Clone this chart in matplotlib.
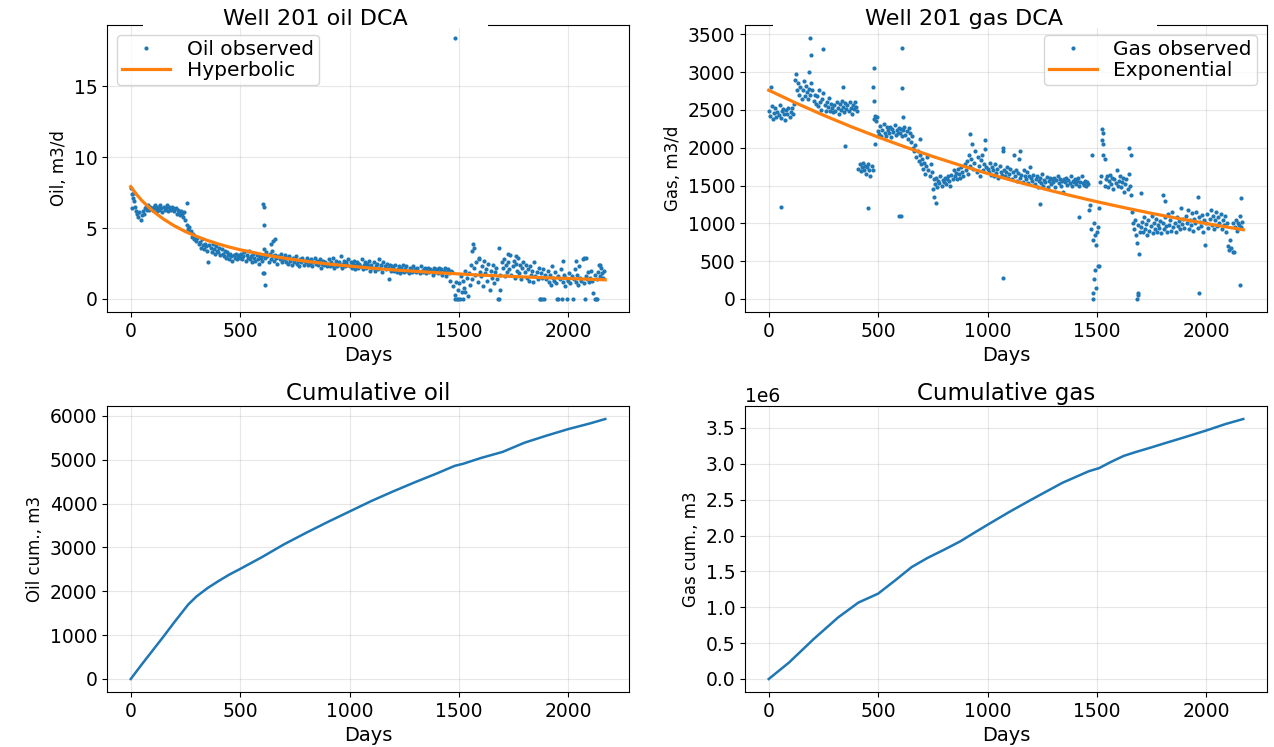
import numpy as np
import matplotlib
matplotlib.use("Agg")
import matplotlib.pyplot as plt
from matplotlib.patches import Rectangle
from matplotlib.ticker import MultipleLocator

step = 5
oil_rate = [
    7.8, 7.4, 7.1, 6.9, 6.5, 6.2, 6.0, 5.8, 6.1, 5.6, 5.9, 6.2, 6.0, 6.4, 6.5, 6.3, 6.6, 6.3, 6.5, 6.4,
    6.3, 6.5, 6.6, 6.4, 6.2, 6.5, 6.3, 6.6, 6.4, 6.1, 6.5, 6.3, 6.4, 6.6, 6.2, 6.5, 6.4, 6.3, 6.5, 6.4,
    6.2, 6.4, 6.0, 6.3, 6.1, 5.9, 6.2, 6.0, 5.8, 6.1, 5.6, 5.2, 4.9, 5.1, 4.7, 4.8, 4.4, 4.6, 4.2, 4.3,
    4.1, 4.3, 3.9, 4.0, 3.6, 4.2, 3.8, 3.5, 3.9, 3.7, 3.4, 2.6, 3.8, 3.6, 3.3, 3.9, 3.5, 3.2, 3.7, 3.4,
    3.3, 3.6, 3.1, 3.5, 3.2, 3.0, 3.4, 2.9, 3.3, 3.1, 2.8, 3.2, 3.0, 2.7, 3.1, 2.9, 3.2, 2.8, 3.0, 3.1,
    2.9, 3.2, 2.8, 3.0, 3.3, 2.7, 3.1, 2.9, 3.4, 2.8, 3.0, 2.6, 3.2, 2.9, 2.7, 3.1, 2.8, 2.5, 3.0, 2.9,
    2.7, 3.1, 3.5, 2.9, 3.3, 3.0, 2.6, 3.2, 2.8, 3.4, 3.0, 2.7, 3.1, 2.9, 2.5, 3.0, 2.8, 3.2, 2.6, 2.9,
    2.8, 3.1, 2.6, 2.9, 2.5, 3.0, 2.7, 2.4, 2.9, 2.6, 2.8, 3.0, 2.5, 2.7, 2.3, 2.8, 2.6, 2.9, 2.4, 2.7,
    2.6, 2.9, 2.4, 2.7, 2.5, 2.8, 2.3, 2.6, 2.9, 2.5, 2.7, 2.4, 2.6, 2.8, 2.2, 2.5, 2.7, 2.4, 2.6, 2.3,
    2.5, 2.8, 2.3, 2.6, 2.4, 2.9, 2.2, 2.5, 2.7, 2.3, 2.6, 2.4, 3.0, 2.2, 2.5, 2.7, 2.3, 2.6, 2.4, 2.8,
    2.3, 2.6, 2.2, 2.5, 2.7, 2.1, 2.4, 2.6, 2.2, 2.5, 2.3, 2.8, 2.1, 2.4, 2.6, 2.2, 2.5, 2.3, 2.7, 2.0,
    2.4, 2.2, 2.6, 2.0, 2.3, 2.5, 2.1, 2.8, 2.2, 2.4, 1.9, 2.6, 2.3, 2.1, 2.5, 2.2, 1.4, 2.4, 2.0, 2.3,
    2.2, 2.0, 2.4, 1.9, 2.1, 2.3, 1.8, 2.2, 2.0, 2.4, 1.9, 2.1, 2.3, 2.0, 1.8, 2.2, 2.1, 1.9, 2.3, 2.0,
    2.1, 1.9, 2.2, 2.0, 1.8, 2.3, 2.0, 1.9, 2.1, 2.2, 1.8, 2.0, 2.2, 1.9, 2.1, 2.0, 1.7, 2.2, 1.9, 2.1,
    2.0, 1.8, 2.2, 1.9, 2.1, 1.7, 2.0, 2.2, 1.6, 1.9, 2.1, 1.8, 1.3, 2.0, 1.9, 0.9, 0.3, 1.2, 0.0, 0.6,
    1.1, 0.0, 1.6, 0.5, 1.3, 0.8, 2.0, 1.5, 0.2, 1.8, 1.0, 2.4, 1.4, 3.9, 2.2, 1.7, 2.6, 1.2, 2.9, 1.9,
    1.6, 2.3, 0.9, 2.7, 1.8, 2.1, 1.3, 2.5, 0.6, 2.0, 1.5, 2.4, 1.1, 1.9, 2.2, 1.4, 0.0, 3.6, 1.7, 2.6,
    2.2, 2.8, 1.6, 2.4, 1.9, 2.6, 2.1, 3.1, 1.7, 2.3, 2.7, 1.5, 2.5, 2.0, 2.9, 1.8, 2.4, 1.4, 2.2, 2.6,
    1.9, 2.4, 1.5, 2.1, 1.3, 2.3, 1.7, 2.0, 1.2, 2.6, 1.6, 1.9, 1.4, 2.2, 0.0, 1.8, 1.5, 2.1, 0.0, 1.7,
    1.4, 2.0, 1.2, 1.7, 1.0, 2.3, 1.5, 1.3, 1.9, 1.1, 0.0, 1.6, 1.4, 2.1, 0.0, 1.2, 1.7, 0.9, 1.5, 0.0,
    1.3, 1.8, 1.1, 1.6, 0.0, 1.4, 2.1, 1.2, 1.7, 1.0, 2.3, 1.5, 1.3, 2.8, 1.1, 0.0, 1.6, 1.4, 1.9, 1.2,
    1.5, 2.0, 1.3, 0.4, 1.7, 0.0, 1.4, 1.9, 2.4, 1.6, 2.2, 1.8, 1.5, 2.0,
]
gas_rate = [
    2480, 2420, 2800, 2550, 2380, 2460, 2520, 2400, 2470, 2430, 2560, 2390, 2480, 2510, 2440, 2370, 2500, 2450, 2530, 2410,
    2470, 2520, 2440, 2580, 2900, 2980, 2760, 2850, 2700, 2800, 2650, 2760, 2880, 2690, 2820, 2740, 2640, 2780, 2700, 2850,
    2760, 2620, 2700, 2580, 2690, 2550, 2760, 2610, 2500, 2640, 2720, 2560, 2480, 2600, 2540, 2660, 2490, 2580, 2520, 2470,
    2560, 2490, 2610, 2530, 2450, 2580, 2500, 2620, 2540, 2470, 2590, 2510, 2560, 2480, 2600, 2530, 2450, 2570, 2510, 2600,
    2540, 2480, 1720, 1780, 1690, 1750, 1800, 1700, 1760, 1650, 1740, 1780, 1700, 1620, 1760, 1700, 2380, 2420, 2350, 2400,
    2220, 2180, 2290, 2150, 2240, 2310, 2200, 2160, 2270, 2230, 2190, 2280, 2140, 2250, 2210, 2300, 2170, 2240, 2200, 2260,
    2190, 2250, 2150, 2230, 2280, 2170, 2220, 2120, 2260, 2200, 2080, 2150, 2000, 1950, 2040, 1880, 1960, 1820, 1900, 1790,
    1850, 1720, 1800, 1650, 1760, 1880, 1700, 1620, 1790, 1680, 1450, 1580, 1520, 1600, 1480, 1560, 1530, 1620, 1500, 1570,
    1540, 1600, 1520, 1580, 1620, 1560, 1490, 1640, 1580, 1700, 1620, 1660, 1590, 1720, 1650, 1600, 1750, 1680, 1620, 1780,
    1700, 1820, 1650, 1900, 1760, 1850, 2050, 1720, 1800, 1950, 1680, 1880, 1760, 1620, 1840, 1900, 1700, 1780, 1980, 1750,
    1720, 1680, 1800, 1640, 1750, 1700, 1620, 1780, 1660, 1720, 1600, 1760, 1680, 1640, 1950, 1700, 1620, 1680, 1740, 1600,
    1650, 1720, 1580, 1680, 1900, 1620, 1700, 1560, 1660, 1850, 1600, 1640, 1550, 1700, 1620, 1580, 1680, 1530, 1620, 1750,
    1600, 1560, 1640, 1520, 1580, 1620, 1480, 1560, 1600, 1530, 1650, 1500, 1570, 1540, 1610, 1480, 1560, 1600, 1520, 1580,
    1550, 1600, 1480, 1570, 1620, 1530, 1590, 1500, 1560, 1420, 1580, 1540, 1600, 1510, 1570, 1530, 1620, 1490, 1560, 1540,
    1580, 1520, 1560, 1600, 1500, 1550, 1620, 1530, 1510, 1560, 1490, 1540, 1520, 1180, 1240, 920, 780, 1000, 850, 720,
    880, 950, 1200, 1550, 1620, 2100, 1900, 1500, 1580, 1620, 1480, 1560, 1640, 1520, 1600, 1450, 1580, 1530, 1700, 1490,
    1560, 1620, 1480, 1550, 1600, 1420, 1520, 1580, 1460, 1650, 1500, 1380, 1150, 1000, 920, 1050, 850, 740, 980, 880,
    950, 1020, 880, 1080, 930, 990, 850, 1050, 900, 960, 1100, 870, 1000, 920, 1060, 890, 980, 940, 1030, 870,
    1000, 920, 1080, 960, 890, 1120, 980, 1040, 900, 1150, 950, 1010, 880, 1090, 970, 1030, 920, 1200, 990, 1060,
    940, 1100, 1000, 1180, 920, 1050, 980, 1130, 900, 1060, 1000, 1150, 940, 1080, 1020, 960, 1110, 880, 1050, 720,
    1000, 1120, 940, 1060, 1180, 980, 1100, 920, 1040, 1150, 960, 1080, 1000, 1120, 930, 1050, 980, 1100, 890, 1010,
    700, 650, 780, 680, 1000, 620, 950, 1050, 900, 1000, 980, 1100, 950, 1020,
]
days_grid = np.arange(len(oil_rate)) * step

# isolated points off the main band
oil_extra_days = [5, 15, 255, 603, 605, 607, 609, 611, 612, 640, 650, 660, 1480, 1484, 1496, 1520, 1528,
                  1562, 1570, 1592, 1684, 1686, 1725, 1760, 1870, 1880, 1955, 1975, 2035, 2070, 2082,
                  2120, 2130, 2145]
oil_extra = [6.4, 7.5, 6.8, 1.8, 6.7, 6.5, 5.2, 1.8, 1.0, 3.9, 4.1, 4.2, 18.4, 0.0, 0.0, 0.0, 0.5,
             3.4, 3.6, 2.8, 0.0, 0.6, 3.2, 3.0, 0.0, 0.0, 0.0, 2.7, 2.7, 2.9, 2.9,
             0.0, 0.0, 2.4]
gas_extra_days = [55, 185, 190, 195, 250, 340, 350, 455, 478, 480, 482, 485, 595, 605, 607, 609, 612,
                  690, 755, 765, 920, 990, 1070, 1072, 1150, 1240, 1420, 1478, 1480, 1482, 1488, 1492,
                  1496, 1505, 1510, 1525, 1528, 1530, 1535, 1645, 1655, 1685, 1688, 1690, 1692, 1700,
                  1800, 1810, 1960, 1965, 2120, 2155, 2160]
gas_extra = [1220, 3000, 3450, 3220, 3300, 2800, 2020, 1200, 2800, 3050, 2620, 2050, 1100, 1100, 3320, 2790, 2400,
             2120, 1350, 1270, 2180, 2100, 280, 2000, 1950, 1250, 1080, 1900, 0, 80, 270, 380,
             150, 430, 430, 2250, 2200, 2050, 1850, 2000, 1900, 0, 50, 80, 600, 1400,
             1370, 1300, 1350, 75, 620, 190, 1330]

# ---- fitted decline curves ----
hyp_days = [0, 25, 50, 100, 150, 200, 250, 300, 350, 400, 450, 500, 600, 700, 800, 900, 1000,
            1100, 1200, 1400, 1600, 1800, 2000, 2169]
hyp_oil = [7.92, 7.40, 6.95, 6.21, 5.63, 5.15, 4.75, 4.42, 4.13, 3.88, 3.66, 3.47, 3.15, 2.88, 2.66, 2.47, 2.32,
           2.17, 2.05, 1.85, 1.68, 1.55, 1.44, 1.35]
exp_days = [0, 125, 250, 375, 500, 625, 750, 875, 1000, 1125, 1250, 1375, 1500, 1625, 1750, 1875, 2000, 2125, 2169]
exp_gas = [2760, 2590, 2430, 2280, 2140, 2008, 1884, 1768, 1659, 1557, 1461, 1371, 1286, 1207, 1132, 1063, 997, 936, 915]

# ---- cumulative production ----
oil_cum_days = [0, 50, 100, 150, 200, 263, 300, 350, 400, 450, 500, 600, 700, 800, 900, 1000, 1100, 1200,
                1300, 1400, 1480, 1520, 1600, 1700, 1800, 1900, 2000, 2100, 2169]
oil_cum = [0, 330, 650, 970, 1300, 1700, 1880, 2070, 2230, 2380, 2510, 2780, 3070, 3330, 3580, 3820, 4060, 4280,
           4490, 4690, 4860, 4910, 5040, 5180, 5390, 5550, 5700, 5830, 5930]
gas_cum_days = [0, 93, 205, 317, 410, 500, 580, 653, 727, 800, 876, 940, 1000, 1100, 1200, 1342, 1463, 1510,
                1560, 1622, 1678, 1750, 1808, 1900, 2000, 2088, 2169]
gas_cum = [0, 0.23e6, 0.556e6, 0.858e6, 1.066e6, 1.19e6, 1.38e6, 1.56e6, 1.69e6, 1.80e6, 1.92e6, 2.04e6, 2.15e6,
           2.33e6, 2.50e6, 2.735e6, 2.897e6, 2.94e6, 3.02e6, 3.11e6, 3.165e6, 3.23e6, 3.285e6, 3.37e6, 3.465e6,
           3.555e6, 3.625e6]

plt.rcParams['font.size'] = 13.5
plt.rcParams['axes.labelsize'] = 14

fig = plt.figure(figsize=(12.74, 7.47), dpi=100)
W, H = 1274, 747
ax_oil = fig.add_axes([107 / W, 1 - 312 / H, 522 / W, 287 / H])
ax_gas = fig.add_axes([745 / W, 1 - 312 / H, 522 / W, 287 / H])
ax_ocum = fig.add_axes([107 / W, 1 - 692 / H, 522 / W, 286 / H])
ax_gcum = fig.add_axes([745 / W, 1 - 692 / H, 522 / W, 286 / H])

obs_kw = dict(ls='none', marker='o', ms=3.0, mew=0, color='C0')
leg_kw = dict(fontsize=14.5, labelspacing=0.1, borderpad=0.25, handlelength=2.4)

ax_oil.plot(np.concatenate([days_grid, oil_extra_days]), np.concatenate([oil_rate, oil_extra]),
            label='Oil observed', **obs_kw)
ax_oil.plot(hyp_days, hyp_oil, color='C1', lw=2.3, label='Hyperbolic')
ax_oil.set_ylabel('Oil, m3/d', fontsize=12)
ax_oil.legend(loc='upper left', **leg_kw)

ax_gas.plot(np.concatenate([days_grid, gas_extra_days]), np.concatenate([gas_rate, gas_extra]),
            label='Gas observed', **obs_kw)
ax_gas.plot(exp_days, exp_gas, color='C1', lw=2.3, label='Exponential')
ax_gas.set_ylabel('Gas, m3/d', fontsize=12)
ax_gas.yaxis.set_major_locator(MultipleLocator(500))
ax_gas.legend(loc='upper right', **leg_kw)

ax_ocum.plot(oil_cum_days, oil_cum, color='C0', lw=1.8)
ax_ocum.set_ylabel('Oil cum., m3', fontsize=12)
ax_ocum.set_title('Cumulative oil', fontsize=16.5, pad=4)

ax_gcum.plot(gas_cum_days, gas_cum, color='C0', lw=1.8)
ax_gcum.set_ylabel('Gas cum., m3', fontsize=12)
ax_gcum.yaxis.set_major_locator(MultipleLocator(0.5e6))
ax_gcum.set_title('Cumulative gas', fontsize=16.5, pad=4)

# top titles sit on the spine with a white patch behind them
for ax, txt, xc, x0, x1 in [(ax_oil, 'Well 201 oil DCA', 0.40, 0.069, 0.730),
                            (ax_gas, 'Well 201 gas DCA', 0.42, 0.054, 0.789)]:
    ax.add_patch(Rectangle((x0, 0.99), x1 - x0, 0.02, transform=ax.transAxes,
                           facecolor='white', edgecolor='none', clip_on=False, zorder=5))
    ax.text(xc, 1.0, txt, transform=ax.transAxes, ha='center', va='baseline',
            fontsize=16, zorder=6)

for ax in (ax_oil, ax_gas, ax_ocum, ax_gcum):
    ax.set_xlabel('Days')
    ax.set_xticks([0, 500, 1000, 1500, 2000])
    ax.grid(True, alpha=0.3)

fig.savefig('out.png', dpi=100)
